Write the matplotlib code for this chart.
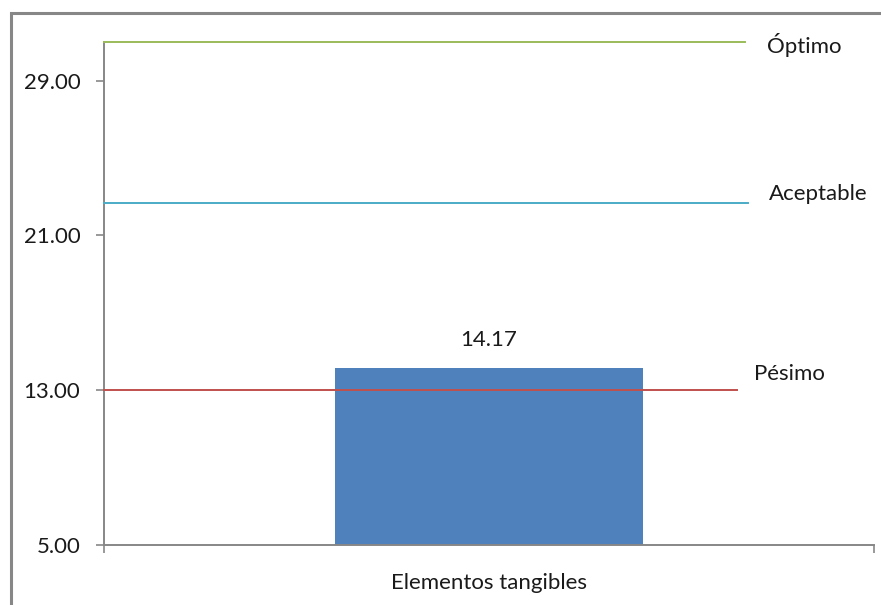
import matplotlib.pyplot as plt
from matplotlib.patches import Rectangle

# data
categories = ["Elementos tangibles"]
scores = [14.17]
ref_names = ["Óptimo", "Aceptable", "Pésimo"]
ref_values = [31.0, 22.7, 13.0]
ref_colors = ["#9BBB59", "#4BACC6", "#C0504D"]
ref_xmax = [0.832, 0.836, 0.822]   # how far each line runs, axes fraction
yticks = [5, 13, 21, 29]

plt.rcParams["font.family"] = ["Lato", "DejaVu Sans"]

fig = plt.figure(figsize=(8.81, 6.05), dpi=100)
ax = fig.add_axes([0.118, 0.0992, 0.874, 0.8314])

# outer chart border (runs off the right and bottom of the image)
fig.patches.append(Rectangle((0.0125, -0.2), 1.2, 0.9785 + 0.2, transform=fig.transFigure,
                             fill=False, edgecolor="#878787", linewidth=2.2, clip_on=False))

bars = ax.bar(range(len(categories)), scores, width=0.4, color="#4F81BD", zorder=2)
for b, v in zip(bars, scores):
    ax.text(b.get_x() + b.get_width() / 2, v + 1.4, f"{v:.2f}", ha="center", va="center",
            fontsize=16, color="#1a1a1a")

# reference lines with their labels
for name, val, col, xm in zip(ref_names, ref_values, ref_colors, ref_xmax):
    ax.axhline(val, xmin=0, xmax=xm, color=col, linewidth=1.4, zorder=3, clip_on=False)
label_pos = [(0.861, 31.0 - 0.15), (0.863, 22.7 + 0.45), (0.844, 13.0 + 0.85)]
for name, (xf, yv) in zip(ref_names, label_pos):
    ax.text(xf, yv, name, transform=ax.get_yaxis_transform(), ha="left", va="center",
            fontsize=16, color="#1a1a1a")

ax.set_xlim(-0.5, len(categories) - 0.5)
ax.set_ylim(5, 31)
ax.set_yticks(yticks)
ax.set_yticklabels([f"{t:.2f}" for t in yticks])
ax.set_xticks(range(len(categories)))
ax.set_xticklabels(categories)
ax.set_xticks([-0.5, len(categories) - 0.5], minor=True)

ax.spines["top"].set_visible(False)
ax.spines["right"].set_visible(False)
for s in ["left", "bottom"]:
    ax.spines[s].set_color("#878787")
    ax.spines[s].set_linewidth(1.4)

ax.tick_params(axis="y", length=6, width=1.2, color="#878787", pad=11, labelsize=16,
               labelcolor="#1a1a1a")
ax.tick_params(axis="x", which="major", length=0, pad=20, labelsize=16, labelcolor="#1a1a1a")
ax.tick_params(axis="x", which="minor", length=6, width=1.2, color="#878787")

fig.savefig("out.png", dpi=100)
